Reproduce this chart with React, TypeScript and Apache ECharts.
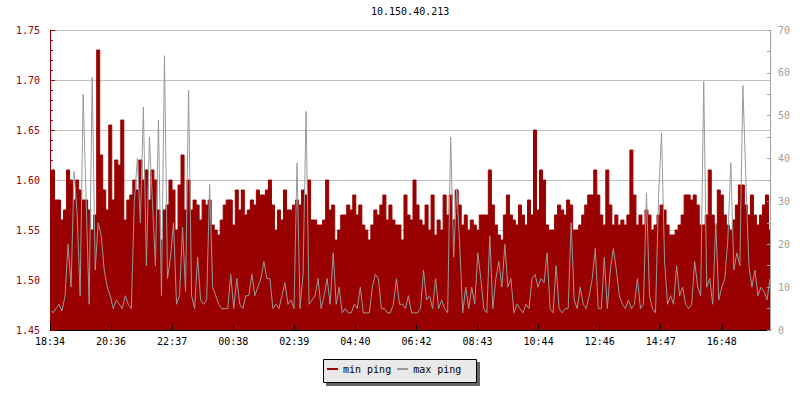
import React, { useEffect, useRef } from 'react';
import * as echarts from 'echarts';

const chartTitle = '10.150.40.213';
const tickLabels = ['18:34', '20:36', '22:37', '00:38', '02:39', '04:40', '06:42', '08:43', '10:44', '12:46', '14:47', '16:48'];
const TICK_STEP_MIN = 121.3;
const SPAN_MIN = 1430;

const minPing = [
  1.57, 1.61, 1.58, 1.58, 1.56, 1.57, 1.61, 1.60, 1.58, 1.60, 1.59, 1.58, 1.58, 1.57, 1.55, 1.565, 1.73, 1.625, 1.59, 1.57,
  1.655, 1.58, 1.62, 1.615, 1.66, 1.56, 1.58, 1.585, 1.60, 1.59, 1.62, 1.60, 1.61, 1.58, 1.61, 1.60, 1.57, 1.54, 1.57, 1.575,
  1.60, 1.59, 1.55, 1.595, 1.625, 1.57, 1.60, 1.57, 1.58, 1.575, 1.56, 1.58, 1.575, 1.58, 1.555, 1.55, 1.545, 1.56, 1.575, 1.58,
  1.58, 1.555, 1.59, 1.57, 1.59, 1.565, 1.57, 1.58, 1.575, 1.59, 1.585, 1.585, 1.59, 1.60, 1.575, 1.55, 1.57, 1.56, 1.59, 1.57,
  1.57, 1.575, 1.58, 1.575, 1.59, 1.585, 1.60, 1.56, 1.56, 1.555, 1.555, 1.56, 1.60, 1.57, 1.575, 1.54, 1.55, 1.565, 1.565, 1.575,
  1.57, 1.585, 1.565, 1.575, 1.555, 1.55, 1.54, 1.555, 1.57, 1.565, 1.575, 1.585, 1.56, 1.575, 1.56, 1.555, 1.555, 1.54, 1.585, 1.565,
  1.56, 1.60, 1.575, 1.56, 1.555, 1.575, 1.55, 1.585, 1.545, 1.56, 1.55, 1.585, 1.565, 1.585, 1.56, 1.59, 1.575, 1.555, 1.565, 1.55,
  1.56, 1.555, 1.55, 1.565, 1.565, 1.565, 1.61, 1.575, 1.555, 1.545, 1.54, 1.565, 1.585, 1.565, 1.56, 1.555, 1.575, 1.565, 1.555, 1.58,
  1.565, 1.65, 1.57, 1.61, 1.60, 1.555, 1.55, 1.55, 1.565, 1.575, 1.57, 1.565, 1.58, 1.575, 1.55, 1.55, 1.555, 1.565, 1.575, 1.585,
  1.585, 1.61, 1.585, 1.565, 1.555, 1.61, 1.575, 1.555, 1.565, 1.555, 1.56, 1.555, 1.565, 1.63, 1.585, 1.555, 1.565, 1.555, 1.57, 1.565,
  1.55, 1.555, 1.565, 1.575, 1.57, 1.555, 1.545, 1.545, 1.55, 1.555, 1.565, 1.585, 1.585, 1.58, 1.585, 1.575, 1.555, 1.555, 1.565, 1.61,
  1.565, 1.555, 1.59, 1.585, 1.565, 1.555, 1.55, 1.56, 1.575, 1.595, 1.595, 1.575, 1.565, 1.585, 1.565, 1.555, 1.565, 1.575, 1.585, 1.55,
];

const maxPing = [
  5, 4, 5, 6, 4.5, 8, 20, 10, 37, 27, 8, 55, 30, 6, 59, 14, 25, 22, 14, 10,
  8, 5, 7, 6, 5, 8, 6, 5, 30, 40, 25, 52, 15, 45, 30, 15, 49, 8, 64, 12,
  17, 25, 6, 8, 24, 9, 56, 8, 5, 17, 7, 6, 7, 34, 10, 8, 6, 5, 5, 5,
  13, 5, 12, 6, 5, 8, 8, 13, 8, 10, 12, 16, 12, 12, 5, 6, 5, 8, 11, 6,
  7, 5, 39, 5, 13, 51, 6, 7, 8, 12, 5, 8, 12, 6, 18, 6, 10, 4, 5, 4,
  4, 6, 5, 10, 4, 4, 4, 10, 13, 12, 5, 5, 4, 4, 6, 12, 6, 6, 5, 8,
  4, 4, 4, 5, 14, 7, 8, 5, 12, 5, 7, 5, 4, 45, 17, 33, 20, 4, 10, 5,
  10, 6, 18, 12, 5, 4, 22, 5, 12, 16, 10, 20, 10, 12, 4, 6, 5, 4, 6, 5,
  12, 13, 10, 12, 11, 18, 5, 4, 15, 5, 4, 5, 5, 25, 7, 5, 10, 6, 5, 8,
  12, 19, 5, 5, 17, 5, 14, 19, 14, 8, 6, 5, 7, 5, 6, 12, 5, 6, 32, 8,
  5, 4, 31, 46, 16, 6, 8, 6, 15, 8, 10, 6, 5, 6, 16, 10, 8, 58, 10, 12,
  6, 25, 7, 10, 12, 21, 39, 14, 18, 15, 57, 35, 15, 10, 14, 8, 10, 9, 7, 12,
];

const RED = '#990000';
const GRAY = '#999999';
const AXIS_GRAY = '#a0a0a0';
const MONO = 'DejaVu Sans Mono';

export default function App() {
  const ref = useRef<HTMLDivElement>(null);

  useEffect(() => {
    if (!ref.current) return;
    const chart = echarts.init(ref.current, null, { renderer: 'svg' });
    const n = minPing.length;
    const xs = minPing.map((_, i) => (i * SPAN_MIN) / (n - 1));
    const tickVals = tickLabels.map((_, k) => k * TICK_STEP_MIN);

    chart.setOption({
      animation: false,
      backgroundColor: '#ffffff',
      title: {
        text: chartTitle,
        left: 371,
        top: 6,
        padding: 0,
        textStyle: { fontFamily: MONO, fontSize: 10, fontWeight: 'normal', color: '#000' },
      },
      legend: {
        data: ['min ping', 'max ping'],
        left: 327,
        top: 364,
        padding: 0,
        icon: 'rect',
        itemWidth: 11,
        itemHeight: 2,
        itemGap: 6,
        z: 10,
        textStyle: { fontFamily: MONO, fontSize: 10, color: '#000' },
      },
      graphic: [
        { type: 'rect', z: 1, shape: { x: 326, y: 362, width: 154, height: 24 }, style: { fill: '#666666' } },
        {
          type: 'rect',
          z: 2,
          shape: { x: 323.5, y: 359.5, width: 153, height: 23 },
          style: { fill: '#e9e9e9', stroke: '#000', lineWidth: 1 },
        },
      ],
      grid: { left: 50, right: 30, top: 30, bottom: 70 },
      xAxis: {
        type: 'value',
        min: 0,
        max: SPAN_MIN,
        z: 10,
        axisLine: { show: true, lineStyle: { color: '#000' } },
        axisTick: { show: true, inside: true, length: 5, lineStyle: { color: '#000' }, customValues: tickVals },
        axisLabel: {
          customValues: tickVals,
          formatter: (v: number) => tickLabels[Math.round(v / TICK_STEP_MIN)] ?? '',
          color: '#000',
          fontFamily: MONO,
          fontSize: 10,
          margin: 6,
        },
        splitLine: { show: false },
      },
      yAxis: [
        {
          type: 'value',
          position: 'left',
          min: 1.45,
          max: 1.75,
          interval: 0.05,
          z: 10,
          axisLine: { show: true, lineStyle: { color: RED } },
          axisTick: { show: true, inside: true, length: 5, lineStyle: { color: RED } },
          minorTick: { show: true, splitNumber: 5, length: 3, lineStyle: { color: RED } },
          axisLabel: {
            color: RED,
            fontFamily: MONO,
            fontSize: 10,
            margin: 10,
            formatter: (v: number) => v.toFixed(2),
          },
          splitLine: { show: false },
        },
        {
          type: 'value',
          position: 'right',
          min: 0,
          max: 70,
          interval: 10,
          z: 10,
          axisLine: { show: true, lineStyle: { color: AXIS_GRAY } },
          axisTick: { show: true, inside: true, length: 3, lineStyle: { color: AXIS_GRAY } },
          minorTick: { show: true, splitNumber: 2, length: 3, lineStyle: { color: AXIS_GRAY } },
          axisLabel: { color: AXIS_GRAY, fontFamily: MONO, fontSize: 10, margin: 8 },
          splitLine: { show: false },
        },
        {
          type: 'value',
          position: 'left',
          min: 1.45,
          max: 1.75,
          interval: 0.05,
          z: 0,
          axisLine: { show: false },
          axisTick: { show: false },
          axisLabel: { show: false },
          splitLine: { show: true, lineStyle: { color: '#c0c0c0', width: 1 } },
        },
      ],
      series: [
        {
          name: 'min ping',
          type: 'line',
          yAxisIndex: 0,
          step: 'middle',
          symbol: 'none',
          data: xs.map((x, i) => [x, minPing[i]]),
          lineStyle: { width: 1, color: RED },
          itemStyle: { color: RED },
          areaStyle: { color: RED, opacity: 1, origin: 'start' },
          z: 2,
        },
        {
          name: 'max ping',
          type: 'line',
          yAxisIndex: 1,
          symbol: 'none',
          data: xs.map((x, i) => [x, maxPing[i]]),
          lineStyle: { width: 1, color: GRAY },
          itemStyle: { color: GRAY },
          z: 3,
        },
      ],
    });

    return () => chart.dispose();
  }, []);

  return (
    <div
      ref={ref}
      style={{ position: 'fixed', left: 0, top: 0, width: 800, height: 400, background: '#fff' }}
    />
  );
}
